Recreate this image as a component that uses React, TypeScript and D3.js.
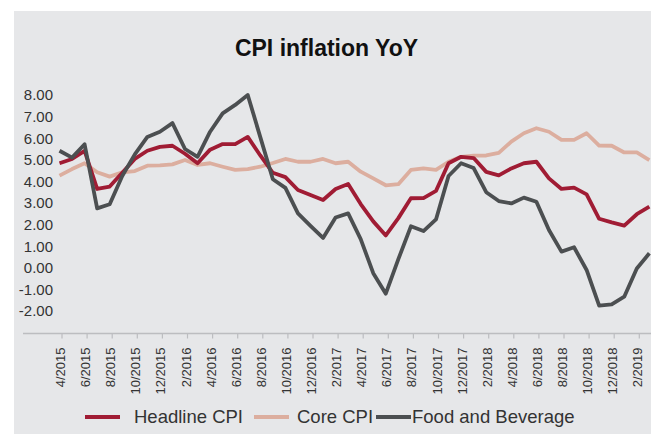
import React, { useEffect, useRef } from 'react'
import * as d3 from 'd3'

// months from 4/2015 to 3/2019
const months: string[] = []
for (let k = 0; k < 48; k++) {
  const m = ((3 + k) % 12) + 1
  const y = 2015 + Math.floor((3 + k) / 12)
  months.push(m + '/' + y)
}

const headline = [4.84, 5.04, 5.41, 3.65, 3.76, 4.4, 5.04, 5.42, 5.6, 5.65, 5.28, 4.84,
  5.47, 5.73, 5.73, 6.06, 5.2, 4.4, 4.2, 3.6, 3.37, 3.14, 3.65, 3.88,
  2.95, 2.15, 1.5, 2.3, 3.22, 3.23, 3.56, 4.84, 5.14, 5.08, 4.44, 4.28,
  4.6, 4.84, 4.91, 4.14, 3.65, 3.71, 3.4, 2.27, 2.1, 1.95, 2.48, 2.83]

const core = [4.27, 4.57, 4.84, 4.42, 4.22, 4.42, 4.48, 4.73, 4.74, 4.79, 4.99, 4.76,
  4.84, 4.68, 4.53, 4.57, 4.68, 4.85, 5.04, 4.91, 4.91, 5.04, 4.84, 4.91,
  4.45, 4.14, 3.82, 3.87, 4.53, 4.6, 4.53, 4.91, 5.14, 5.19, 5.2, 5.32,
  5.84, 6.23, 6.46, 6.3, 5.92, 5.92, 6.23, 5.66, 5.65, 5.34, 5.34, 4.99]

const food = [5.42, 5.1, 5.72, 2.75, 2.94, 4.25, 5.25, 6.06, 6.3, 6.7, 5.5, 5.14,
  6.3, 7.15, 7.54, 8.0, 6.05, 4.1, 3.7, 2.52, 1.94, 1.38, 2.33, 2.52,
  1.33, -0.25, -1.2, 0.4, 1.92, 1.7, 2.24, 4.25, 4.84, 4.62, 3.5, 3.09,
  2.98, 3.25, 3.06, 1.75, 0.75, 0.95, -0.1, -1.75, -1.69, -1.34, -0.03, 0.67]

const yTicks = [8, 7, 6, 5, 4, 3, 2, 1, 0, -1, -2]

const seriesNames = ['Headline CPI', 'Core CPI', 'Food and Beverage']
const seriesColors = ['#a01c34', '#dcae9f', '#4c4f51']

export default function App() {
  const ref = useRef<SVGSVGElement | null>(null)

  useEffect(() => {
    const width = 651, height = 434
    const svg = d3.select(ref.current)
    svg.selectAll('*').remove()
    svg.attr('width', width).attr('height', height)

    const font = '"Liberation Sans", Arial, sans-serif'

    svg.append('rect')
      .attr('x', 14).attr('y', 11)
      .attr('width', width - 14).attr('height', height - 11)
      .attr('fill', '#e6e7e9')

    const x = d3.scaleLinear().domain([0, months.length - 1]).range([59.5, 59.5 + 12.55 * 47])
    const y = d3.scaleLinear().domain([-2, 8]).range([311, 95])

    svg.append('text')
      .attr('x', 326.5).attr('y', 56)
      .attr('text-anchor', 'middle')
      .style('font-family', font).style('font-size', '23px').style('font-weight', 'bold')
      .attr('fill', '#111')
      .text('CPI inflation YoY')

    // y labels
    svg.append('g').selectAll('text')
      .data(yTicks).enter().append('text')
      .attr('x', 53).attr('y', d => y(d))
      .attr('dy', '0.36em')
      .attr('text-anchor', 'end')
      .style('font-family', font).style('font-size', '15px')
      .attr('fill', '#333')
      .text(d => d.toFixed(2))

    // x axis
    const axisY = 333.5
    svg.append('line')
      .attr('x1', 23).attr('x2', width)
      .attr('y1', axisY).attr('y2', axisY)
      .attr('stroke', '#bcbdc0').attr('stroke-width', 1.5)

    const labelIdx = d3.range(0, months.length, 2)
    svg.append('g').selectAll('line')
      .data(labelIdx).enter().append('line')
      .attr('x1', d => x(d) + 2.5).attr('x2', d => x(d) + 2.5)
      .attr('y1', axisY).attr('y2', axisY + 5)
      .attr('stroke', '#bcbdc0').attr('stroke-width', 1.2)

    svg.append('g').selectAll('text')
      .data(labelIdx).enter().append('text')
      .attr('transform', d => 'translate(' + (x(d) + 1) + ',' + (axisY + 14) + ') rotate(-90)')
      .attr('text-anchor', 'end')
      .attr('dy', '0.35em')
      .style('font-family', font).style('font-size', '13px')
      .attr('fill', '#333')
      .text(d => months[d])

    const line = d3.line<number>()
      .x((d, i) => x(i))
      .y(d => y(d))

    const all = [headline, core, food]
    // draw core first so headline sits on top, food over everything
    const order = [1, 0, 2]
    order.forEach(k => {
      svg.append('path')
        .datum(all[k])
        .attr('d', line)
        .attr('fill', 'none')
        .attr('stroke', seriesColors[k])
        .attr('stroke-width', 3.8)
        .attr('stroke-linejoin', 'round')
    })

    // legend
    const legend = [
      { sx: 85, tx: 134 },
      { sx: 254, tx: 297 },
      { sx: 376, tx: 412 },
    ]
    const ly = 417
    legend.forEach((l, k) => {
      svg.append('line')
        .attr('x1', l.sx).attr('x2', l.sx + 35)
        .attr('y1', ly).attr('y2', ly)
        .attr('stroke', seriesColors[k]).attr('stroke-width', 4)
      svg.append('text')
        .attr('x', l.tx).attr('y', ly)
        .attr('dy', '0.35em')
        .style('font-family', font).style('font-size', '18.5px')
        .attr('fill', '#333')
        .text(seriesNames[k])
    })
  }, [])

  return (
    <div style={{ position: 'absolute', left: 0, top: 0 }}>
      <svg ref={ref} style={{ display: 'block' }}></svg>
    </div>
  )
}
